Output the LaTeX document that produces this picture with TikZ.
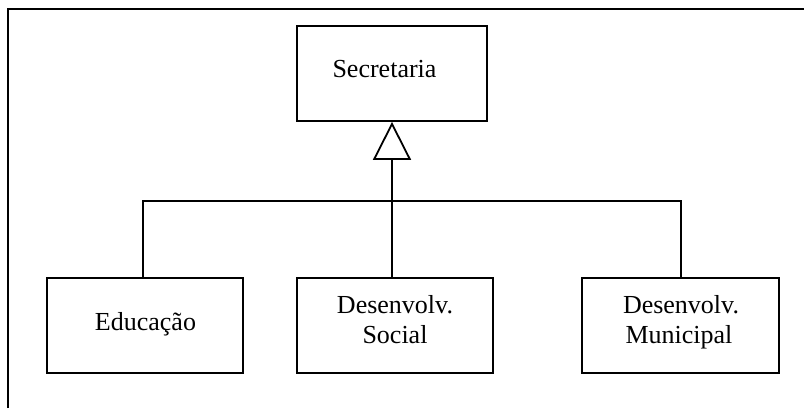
\documentclass[tikz,border=0pt]{standalone}
\usepackage{fontspec}
\setmainfont{Liberation Serif}
\usetikzlibrary{arrows.meta}
\begin{document}
\begin{tikzpicture}[x=1pt,y=-1pt,
  line width=1.8pt,
  classbox/.style={draw, rectangle, inner sep=0pt, minimum width=196pt, minimum height=95pt},
  txt/.style={anchor=base, inner sep=0pt, font=\fontsize{26}{30}\selectfont},
  link/.style={draw, line width=1.8pt},
  inherit/.style={-{Triangle[length=38pt,width=38pt,fill=white,line width=1.8pt]}}
]
\useasboundingbox (0,0) rectangle (804,408);
% page frame (left and top rules)
\draw (8,408) -- (8,9) -- (804,9);

% classes
\node[classbox, minimum width=190pt] (sec) at (392,73.5) {};
\node[classbox] (edu) at (145,325.5) {};
\node[classbox] (soc) at (395,325.5) {};
\node[classbox, minimum width=197pt] (mun) at (680.5,325.5) {};

% labels
\node[txt] (secT) at (384.5,77) {Secretaria};
\node[txt] (eduT) at (145.5,330) {Educação};
\node[txt] (socT1) at (395,313) {Desenvolv.};
\node[txt] (socT2) at (395,343) {Social};
\node[txt] (munT1) at (681,313) {Desenvolv.};
\node[txt] (munT2) at (679,343) {Municipal};

% generalisation tree
\coordinate (hub) at (392,201);
\coordinate (lx) at (143,0);
\coordinate (rx) at (681,0);
\draw[link] (edu.north -| lx) |- (hub) -| (mun.north -| rx);
\draw[link, inherit] (soc.north -| hub) -- (sec.south);
\end{tikzpicture}
\end{document}
